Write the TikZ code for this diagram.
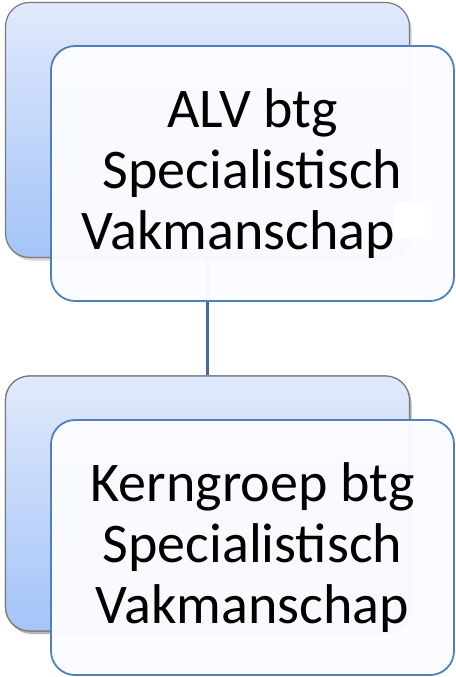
\documentclass[tikz,border=0pt]{standalone}
\usepackage{fontspec}
\setmainfont{Carlito}
\usetikzlibrary{shadows}
\definecolor{backtop}{HTML}{E0EAFC}
\definecolor{backbot}{HTML}{A4C3F8}
\definecolor{backborder}{HTML}{7A7A7A}
\definecolor{frontborder}{HTML}{5080BC}
\definecolor{frontfill}{HTML}{FBFCFF}
\definecolor{linkcol}{HTML}{46699E}
\begin{document}
\begin{tikzpicture}[x=1pt,y=-1pt,
  backbox/.style={draw=backborder, line width=1.2pt, rounded corners=24pt,
    top color=backtop, bottom color=backbot, minimum width=404pt,
    minimum height=255pt, inner sep=0pt,
    drop shadow={shadow xshift=2pt, shadow yshift=-3pt, opacity=0.35}},
  frontbox/.style={draw=frontborder, line width=1.8pt, rounded corners=24pt,
    fill=frontfill, fill opacity=0.97, text opacity=1, text=black,
    minimum width=403pt, minimum height=255pt, inner sep=0pt, align=center,
    font=\fontsize{56}{61}\selectfont},
  link/.style={draw=linkcol, line width=3.5pt}]
\useasboundingbox (0,0) rectangle (455,677);
\node[backbox] (back1) at (207.5,130) {};
\node[backbox] (back2) at (207.5,503.5) {};
\draw[link] (back1.south) -- (back2.north);
\node[backbox] (back2b) at (207.5,503.5) {};
\node[frontbox] (front1) at (252.5,173.5) {ALV btg\\Specialistisch\\Vakmanschap\hspace*{28pt}};
\fill[white] (395,202) rectangle (431,238);
\node[frontbox] (front2) at (252.5,547.5) {Kerngroep btg\\Specialistisch\\Vakmanschap};
\end{tikzpicture}
\end{document}
